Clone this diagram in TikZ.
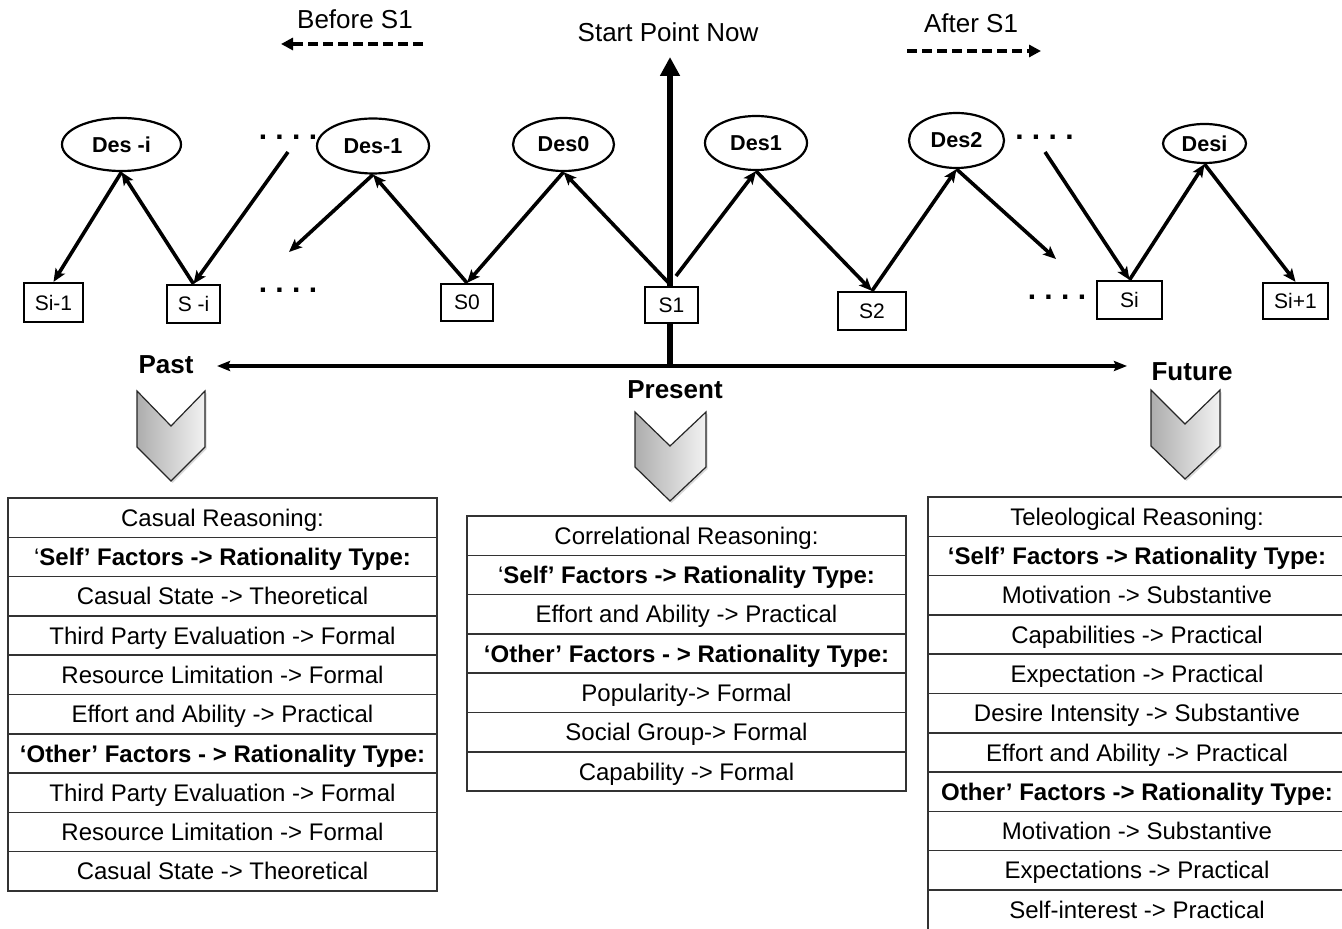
\documentclass[tikz,border=0pt]{standalone}
\usepackage{fontspec}
\setmainfont{Liberation Sans}
\usetikzlibrary{arrows.meta,shapes.geometric,shadows}

\tikzset{
  des/.style={ellipse, draw, line width=1.1pt, fill=white, inner sep=0pt,
    font=\fontsize{10.8}{12}\selectfont\bfseries},
  sbox/.style={rectangle, draw, line width=1.1pt, fill=white, inner sep=0pt,
    font=\fontsize{10.5}{12}\selectfont},
  link/.style={line width=1.8pt, -{Stealth[length=6.5pt,width=5.5pt,inset=1.5pt]}},
  flow/.style={line width=2pt, dash pattern=on 5pt off 2.5pt,
    -{Triangle[length=6pt,width=6pt]}},
  cell/.style={rectangle, draw=black!80, line width=0.75pt, inner sep=0pt,
    minimum height=19.65pt, text height=8.6pt, text depth=0pt,
    font=\fontsize{12}{14}\selectfont},
  chev/.style={left color=black!32, right color=black!5, draw=black!85, line width=0.6pt,
    drop shadow={shadow xshift=0.8pt, shadow yshift=-1pt, opacity=0.3}},
  era/.style={font=\fontsize{13}{15}\selectfont\bfseries},
  hint/.style={font=\fontsize{13}{15}\selectfont},
  etcdots/.style={inner sep=0pt, font=\fontsize{15}{15}\selectfont\bfseries}
}

\begin{document}
\begin{tikzpicture}[x=0.5pt, y=-0.5pt]
  \useasboundingbox (0,0) rectangle (1342,929);
  \clip (0,0) rectangle (1342,929);

  % Eixo do tempo
  \coordinate (nowbase) at (670,366);
  \coordinate (nowtop)  at (670,57);
  \coordinate (pastend) at (217,366);
  \coordinate (futend)  at (1127,366);
  \draw[line width=3.3pt, -{Triangle[length=9.5pt,width=9.5pt]}] (nowbase) -- (nowtop);
  \draw[line width=1.7pt, {Stealth[length=6.5pt,width=5pt,inset=1pt]}-{Stealth[length=6.5pt,width=5pt,inset=1pt]}]
    (pastend) -- (futend);

  % Rótulos de cima
  \node[hint] (before) at (355,19)  {Before S1};
  \node[hint] (start)  at (668,32)  {Start Point Now};
  \node[hint] (after)  at (971,23)  {After S1};
  \coordinate (bfrom) at (423,44);  \coordinate (bto) at (281,44);
  \coordinate (afrom) at (907,51);  \coordinate (ato) at (1041,51);
  \draw[flow] (bfrom) -- (bto);
  \draw[flow] (afrom) -- (ato);

  \node[era] (past)    at (166,365)  {Past};
  \node[era] (present) at (675,390)  {Present};
  \node[era] (future)  at (1192,372) {Future};

  % Desejos
  \node[des, minimum width=59.5pt, minimum height=26.5pt] (desmi) at (121.5,144.5) {Des -i};
  \node[des, minimum width=56pt,   minimum height=27.5pt] (desm1) at (373,146)     {Des-1};
  \node[des, minimum width=50.5pt, minimum height=26.5pt] (des0)  at (563.5,144.5) {Des0};
  \node[des, minimum width=51pt,   minimum height=27pt]   (des1)  at (756,143)     {Des1};
  \node[des, minimum width=47.5pt, minimum height=27.5pt] (des2)  at (956.5,140.5) {Des2};
  \node[des, minimum width=41.5pt, minimum height=19.5pt] (desi)  at (1204.5,143.5) {Desi};

  % Estados
  \node[sbox, minimum width=29.5pt, minimum height=19.5pt] (sim1) at (53.5,302.5) {Si-1};
  \node[sbox, minimum width=26.5pt, minimum height=19pt]   (smi)  at (193.5,304)  {S -i};
  \node[sbox, minimum width=26pt,   minimum height=18.5pt] (s0)   at (467,302.5)  {S0};
  \node[sbox, minimum width=26.5pt, minimum height=18pt]   (s1)   at (671.5,305)  {S1};
  \node[sbox, minimum width=34pt,   minimum height=19pt]   (s2)   at (872,311)    {S2};
  \node[sbox, minimum width=32.5pt, minimum height=19pt]   (si)   at (1129.5,300) {Si};
  \node[sbox, minimum width=32.5pt, minimum height=18pt]   (sip1) at (1295.5,301) {Si+1};

  \node[etcdots] (etcA) at (288,137)    {.\ .\ .\ .};
  \node[etcdots] (etcB) at (288,290)    {.\ .\ .\ .};
  \node[etcdots] (etcC) at (1044.5,137) {.\ .\ .\ .};
  \node[etcdots] (etcD) at (1057,297)   {.\ .\ .\ .};

  % Ligações
  \coordinate (freeA) at (288,152);
  \coordinate (freeB) at (289,252);
  \coordinate (freeC) at (676,276);
  \coordinate (freeD) at (1056,259);
  \coordinate (freeE) at (1045,152);
  \draw[link] (desmi.south) -- (sim1.north);
  \draw[link] (smi.north) -- (desmi.south);
  \draw[link] (freeA) -- (smi.north);
  \draw[link] (desm1.south) -- (freeB);
  \draw[link] (s0.north) -- (desm1.south);
  \draw[link] (des0.south) -- (s0.north);
  \draw[link] (s1.north) -- (des0.south);
  \draw[link] (freeC) -- (des1.south);
  \draw[link] (des1.south) -- (s2.north);
  \draw[link] (s2.north) -- (des2.south);
  \draw[link] (des2.south) -- (freeD);
  \draw[link] (freeE) -- (si.north);
  \draw[link] (si.north) -- (desi.south);
  \draw[link] (desi.south) -- (sip1.north);

  % Setas para baixo
  \shade[chev] (137,391) -- (171,426) -- (205,391) -- (205,447) -- (171,481) -- (137,447) -- cycle;
  \shade[chev] (635,412) -- (670,446) -- (706,412) -- (706,467) -- (670,501) -- (635,467) -- cycle;
  \shade[chev] (1151,390) -- (1185,424) -- (1220,390) -- (1220,446) -- (1185,479) -- (1151,446) -- cycle;

  \def\rh{39.3} % altura de cada linha

  % Tabela do passado
  \foreach \txt [count=\i] in {Casual Reasoning:,
      ‘\textbf{Self’ Factors -> Rationality Type:},
      Casual State -> Theoretical,
      Third Party Evaluation -> Formal,
      Resource Limitation -> Formal,
      Effort and Ability -> Practical,
      \textbf{‘Other’ Factors - > Rationality Type:},
      Third Party Evaluation -> Formal,
      Resource Limitation -> Formal,
      Casual State -> Theoretical}
    \node[cell, minimum width=214.5pt] (pastrow\i) at (222.5,{498+\rh*(\i-0.5)}) {\txt};

  % Tabela do presente
  \foreach \txt [count=\i] in {Correlational Reasoning:,
      ‘\textbf{Self’ Factors -> Rationality Type:},
      Effort and Ability -> Practical,
      \textbf{‘Other’ Factors - > Rationality Type:},
      Popularity-> Formal,
      Social Group-> Formal,
      Capability -> Formal}
    \node[cell, minimum width=219.5pt] (presrow\i) at (686.5,{516+\rh*(\i-0.5)}) {\txt};

  % Tabela do futuro
  \foreach \txt [count=\i] in {Teleological Reasoning:,
      \textbf{‘Self’ Factors -> Rationality Type:},
      Motivation -> Substantive,
      Capabilities -> Practical,
      Expectation -> Practical,
      Desire Intensity -> Substantive,
      Effort and Ability -> Practical,
      \textbf{Other’ Factors -> Rationality Type:},
      Motivation -> Substantive,
      Expectations -> Practical,
      Self-interest -> Practical}
    \node[cell, minimum width=209pt] (futrow\i) at (1137,{497+\rh*(\i-0.5)}) {\txt};
\end{tikzpicture}
\end{document}
